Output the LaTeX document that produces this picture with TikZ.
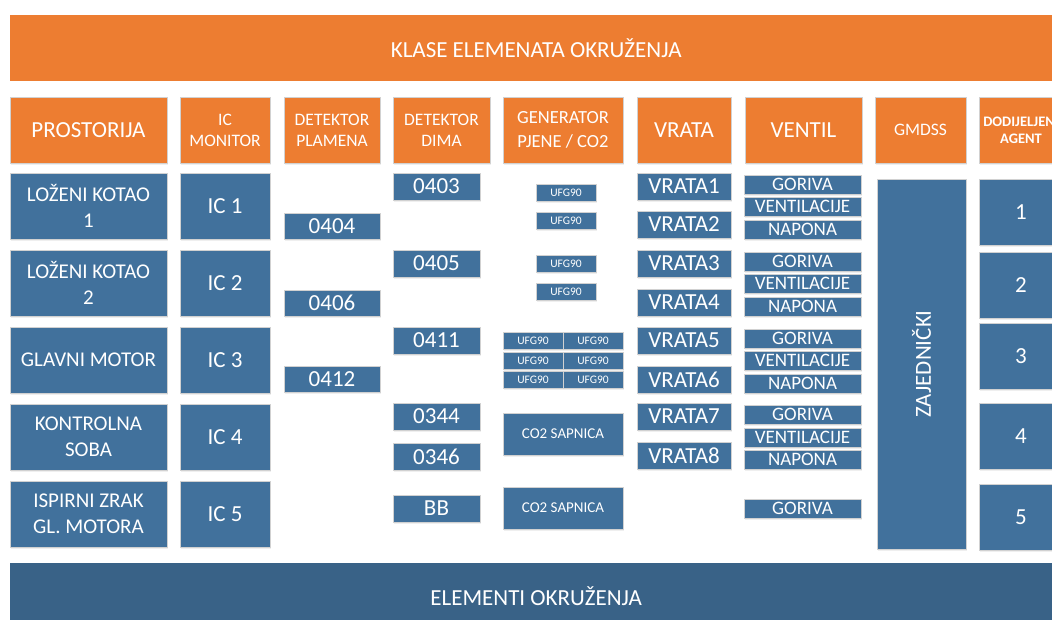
\documentclass[tikz,border=0pt]{standalone}
\usepackage{fontspec}
\setmainfont{Carlito}
\usetikzlibrary{shadows}
\definecolor{narancasta}{HTML}{ED7D31}
\definecolor{plava}{HTML}{41719C}
\definecolor{tamnoplava}{HTML}{396287}

\begin{document}
\begin{tikzpicture}[x=1pt,y=-1pt,
  kutija/.style={anchor=north west,inner sep=0pt,outer sep=0pt,text=white,align=center,
    draw=black!18,line width=0.8pt,drop shadow={opacity=0.12,shadow xshift=0.5pt,shadow yshift=-2pt}},
  zaglavlje/.style={kutija,fill=narancasta},
  element/.style={kutija,fill=plava},
  traka/.style={anchor=north west,inner sep=0pt,text=white,font=\fontsize{23}{28}\selectfont},
  wh/.style 2 args={minimum width=#1pt,minimum height=#2pt},
  veliki/.style={font=\fontsize{23}{28}\selectfont},
  mali/.style={font=\fontsize{17.5}{21}\selectfont},
  soba/.style={font=\fontsize{21}{25.5}\selectfont},
  broj/.style={font=\fontsize{23}{28}\selectfont},
  ventil/.style={font=\fontsize{19}{22}\selectfont},
  ufg/.style={font=\fontsize{11.5}{14}\selectfont},
  sapnica/.style={font=\fontsize{15}{18}\selectfont}]
\useasboundingbox (0,0) rectangle (1052,620);
\clip (0,0) rectangle (1052,620);
\fill[white] (0,0) rectangle (1052,620);

% trake
\node[traka,fill=narancasta,wh={1052}{66}] (klase) at (10,15) {KLASE ELEMENATA OKRUŽENJA};
\node[traka,fill=tamnoplava,wh={1052}{66}] (elementi) at (10,563) {ELEMENTI OKRUŽENJA};

% zaglavlja
\node[zaglavlje,veliki,wh={157}{66}] (hprost) at (10,97) {PROSTORIJA};
\node[zaglavlje,mali,wh={90}{66}] (hic) at (180,97) {IC\\MONITOR};
\node[zaglavlje,mali,wh={96}{66}] (hplam) at (284,97) {DETEKTOR\\PLAMENA};
\node[zaglavlje,mali,wh={97}{66}] (hdim) at (393,97) {DETEKTOR\\DIMA};
\node[zaglavlje,font=\fontsize{18.5}{24}\selectfont,wh={120}{66}] (hgen) at (503,97) {GENERATOR\\PJENE / CO2};
\node[zaglavlje,veliki,wh={94}{66}] (hvrata) at (637,97) {VRATA};
\node[zaglavlje,veliki,wh={117}{66}] (hventil) at (745,97) {VENTIL};
\node[zaglavlje,mali,wh={91}{66}] (hgmdss) at (875,97) {GMDSS};
\node[zaglavlje,font=\fontsize{14.5}{17}\selectfont\bfseries,wh={84}{66}] (hagent) at (979,97) {DODIJELJENI\\AGENT};

% prostorije
\node[element,soba,wh={157}{66}] (kotao1) at (10,173) {LOŽENI KOTAO\\1};
\node[element,soba,wh={157}{66}] (kotao2) at (10,250) {LOŽENI KOTAO\\2};
\node[element,soba,wh={157}{66}] (motor) at (10,327) {GLAVNI MOTOR};
\node[element,soba,wh={157}{66}] (kontrola) at (10,404) {KONTROLNA\\SOBA};
\node[element,soba,wh={157}{66}] (ispirni) at (10,481) {ISPIRNI ZRAK\\GL. MOTORA};

% IC monitori
\node[element,broj,wh={90}{66}] (ic1) at (180,173) {IC 1};
\node[element,broj,wh={90}{66}] (ic2) at (180,250) {IC 2};
\node[element,broj,wh={90}{66}] (ic3) at (180,327) {IC 3};
\node[element,broj,wh={90}{66}] (ic4) at (180,404) {IC 4};
\node[element,broj,wh={90}{66}] (ic5) at (180,481) {IC 5};

% detektori plamena
\node[element,broj,wh={96}{26}] (p0404) at (284,213) {0404};
\node[element,broj,wh={96}{26}] (p0406) at (284,290) {0406};
\node[element,broj,wh={96}{26}] (p0412) at (284,366) {0412};

% detektori dima
\node[element,broj,wh={87}{27}] (d0403) at (393,173) {0403};
\node[element,broj,wh={87}{27}] (d0405) at (393,250) {0405};
\node[element,broj,wh={87}{27}] (d0411) at (393,327) {0411};
\node[element,broj,wh={87}{27}] (d0344) at (393,403) {0344};
\node[element,broj,wh={87}{27}] (d0346) at (393,443) {0346};
\node[element,broj,wh={87}{27}] (dbb) at (393,495) {BB};

% generatori
\node[element,ufg,wh={60}{17}] (ufg1) at (536,184) {UFG90};
\node[element,ufg,wh={60}{17}] (ufg2) at (536,212) {UFG90};
\node[element,ufg,wh={60}{17}] (ufg3) at (536,255) {UFG90};
\node[element,ufg,wh={60}{17}] (ufg4) at (536,283) {UFG90};
\node[element,ufg,wh={60}{17}] (ufg5) at (503,332) {UFG90};
\node[element,ufg,wh={60}{17}] (ufg6) at (563,332) {UFG90};
\node[element,ufg,wh={60}{17}] (ufg7) at (503,352) {UFG90};
\node[element,ufg,wh={60}{17}] (ufg8) at (563,352) {UFG90};
\node[element,ufg,wh={60}{17}] (ufg9) at (503,371) {UFG90};
\node[element,ufg,wh={60}{17}] (ufg10) at (563,371) {UFG90};
\node[element,sapnica,wh={120}{42}] (co2a) at (503,413) {CO2 SAPNICA};
\node[element,sapnica,wh={120}{42}] (co2b) at (503,487) {CO2 SAPNICA};

% vrata
\node[element,broj,wh={94}{27}] (vrata1) at (637,173) {VRATA1};
\node[element,broj,wh={94}{27}] (vrata2) at (637,211) {VRATA2};
\node[element,broj,wh={94}{27}] (vrata3) at (637,250) {VRATA3};
\node[element,broj,wh={94}{27}] (vrata4) at (637,289) {VRATA4};
\node[element,broj,wh={94}{27}] (vrata5) at (637,327) {VRATA5};
\node[element,broj,wh={94}{27}] (vrata6) at (637,366) {VRATA6};
\node[element,broj,wh={94}{27}] (vrata7) at (637,403) {VRATA7};
\node[element,broj,wh={94}{27}] (vrata8) at (637,442) {VRATA8};

% ventili
\node[element,ventil,wh={117}{19}] (gor1) at (744,175) {GORIVA};
\node[element,ventil,wh={117}{19}] (ven1) at (744,197) {VENTILACIJE};
\node[element,ventil,wh={117}{19}] (nap1) at (744,220) {NAPONA};
\node[element,ventil,wh={117}{19}] (gor2) at (744,252) {GORIVA};
\node[element,ventil,wh={117}{19}] (ven2) at (744,274) {VENTILACIJE};
\node[element,ventil,wh={117}{19}] (nap2) at (744,297) {NAPONA};
\node[element,ventil,wh={117}{19}] (gor3) at (744,329) {GORIVA};
\node[element,ventil,wh={117}{19}] (ven3) at (744,351) {VENTILACIJE};
\node[element,ventil,wh={117}{19}] (nap3) at (744,374) {NAPONA};
\node[element,ventil,wh={117}{19}] (gor4) at (744,405) {GORIVA};
\node[element,ventil,wh={117}{19}] (ven4) at (744,428) {VENTILACIJE};
\node[element,ventil,wh={117}{19}] (nap4) at (744,450) {NAPONA};
\node[element,ventil,wh={117}{19}] (gor5) at (744,499) {GORIVA};

% GMDSS
\node[element,wh={89}{370}] (zaj) at (877,179) {};
\node[rotate=90,text=white,broj,inner sep=0pt] (zajtekst) at (zaj.center) {ZAJEDNIČKI};

% agenti
\node[element,broj,wh={84}{66}] (ag1) at (979,179) {1};
\node[element,broj,wh={84}{66}] (ag2) at (979,252) {2};
\node[element,broj,wh={84}{66}] (ag3) at (979,323) {3};
\node[element,broj,wh={84}{66}] (ag4) at (979,403) {4};
\node[element,broj,wh={84}{66}] (ag5) at (979,484) {5};
\end{tikzpicture}
\end{document}
